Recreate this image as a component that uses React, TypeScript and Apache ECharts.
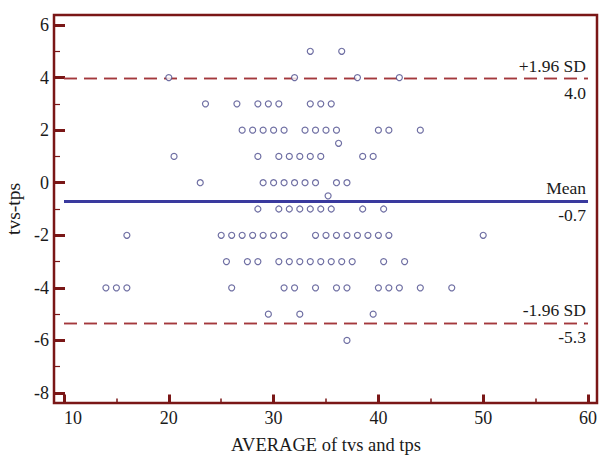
import React, { useEffect, useRef } from "react";
import * as echarts from "echarts";

// Bland-Altman data: difference levels (tvs - tps) and the averages observed at each level
const diffLevels = [5, 4, 3, 2, 1.5, 1, 0, -0.5, -1, -2, -3, -4, -5, -6];
const averagesByLevel = [
  [33.5, 36.5],
  [20, 32, 38, 42],
  [23.5, 26.5, 28.5, 29.5, 30.5, 33.5, 34.5, 35.5],
  [27, 28, 29, 30, 31, 33, 34, 35, 36, 40, 41, 44],
  [36.2],
  [20.5, 28.5, 30.5, 31.5, 32.5, 33.5, 34.5, 38.5, 39.5],
  [23, 29, 30, 31, 32, 33, 34, 36, 37],
  [35.2],
  [28.5, 30.5, 31.5, 32.5, 33.5, 34.5, 35.5, 38.5, 40.5],
  [16, 25, 26, 27, 28, 29, 30, 31, 34, 35, 36, 37, 38, 39, 40, 41, 50],
  [25.5, 27.5, 28.5, 30.5, 31.5, 32.5, 33.5, 34.5, 35.5, 36.5, 37.5, 40.5, 42.5],
  [14, 15, 16, 26, 31, 32, 34, 36, 37, 40, 41, 42, 44, 47],
  [29.5, 32.5, 39.5],
  [37],
];

const limitNames = ["+1.96 SD", "Mean", "-1.96 SD"];
const limitValues = [3.96, -0.71, -5.34];

const xTitle = "AVERAGE of tvs and tps";
const yTitle = "tvs-tps";

const FONT = "'Liberation Serif', 'Times New Roman', serif";
const FRAME = "#7a1717";
const DASH = "#a3383c";
const MEAN = "#3a3a9e";
const MARK = "#4b4b8c";
const TEXT = "#1a1a1a";

export default function App() {
  const ref = useRef<HTMLDivElement>(null);

  useEffect(() => {
    if (!ref.current) return;
    const chart = echarts.init(ref.current, undefined, { renderer: "svg" });

    const points: number[][] = [];
    diffLevels.forEach((d, i) => {
      averagesByLevel[i].forEach((a) => points.push([a, d]));
    });

    const markData: any[] = [];
    limitValues.forEach((v, i) => {
      const isMean = limitNames[i] === "Mean";
      const lineStyle = isMean
        ? { color: MEAN, width: 3, type: "solid" }
        : { color: DASH, width: 1.3, type: [13, 7] };
      markData.push({
        yAxis: v,
        lineStyle,
        label: {
          show: true,
          position: "insideEndTop",
          formatter: limitNames[i],
          distance: [2, 4],
        },
      });
      markData.push({
        yAxis: v,
        lineStyle,
        label: {
          show: true,
          position: "insideEndBottom",
          formatter: v.toFixed(1),
          distance: [2, 5],
        },
      });
    });

    chart.setOption({
      animation: false,
      backgroundColor: "#ffffff",
      textStyle: { fontFamily: FONT },
      grid: {
        left: 64,
        right: 12,
        top: 25,
        bottom: 62,
        containLabel: false,
        outerBoundsMode: "none",
      },
      xAxis: {
        type: "value",
        min: 10,
        max: 60,
        interval: 10,
        offset: 10.5,
        name: xTitle,
        nameLocation: "middle",
        nameGap: 32,
        nameTextStyle: { fontFamily: FONT, fontSize: 18.5, color: TEXT },
        axisLine: { show: false, onZero: false },
        axisTick: {
          show: true,
          inside: true,
          length: 9,
          lineStyle: { color: FRAME, width: 3 },
        },
        minorTick: {
          show: true,
          splitNumber: 2,
          length: 5,
          lineStyle: { color: FRAME, width: 1.5 },
        },
        splitLine: { show: false },
        axisLabel: {
          margin: 5,
          fontFamily: FONT,
          fontSize: 18,
          color: TEXT,
          alignMinLabel: "left",
        },
      },
      yAxis: {
        type: "value",
        min: -8,
        max: 6,
        interval: 2,
        offset: 10,
        name: yTitle,
        nameLocation: "middle",
        nameGap: 25,
        nameTextStyle: { fontFamily: FONT, fontSize: 19.5, color: TEXT },
        axisLine: { show: false, onZero: false },
        axisTick: {
          show: true,
          inside: true,
          length: 11,
          lineStyle: { color: FRAME, width: 3 },
        },
        minorTick: {
          show: true,
          splitNumber: 2,
          length: 6,
          lineStyle: { color: FRAME, width: 1.2 },
        },
        splitLine: { show: false },
        axisLabel: {
          margin: 5,
          fontFamily: FONT,
          fontSize: 18,
          color: TEXT,
        },
      },
      graphic: [
        {
          type: "rect",
          shape: { x: 54, y: 15, width: 543, height: 388 },
          style: { fill: "none", stroke: FRAME, lineWidth: 2.5 },
          z: 100,
          silent: true,
        },
      ],
      series: [
        {
          type: "scatter",
          data: points,
          symbol: "circle",
          symbolSize: 6,
          itemStyle: { color: "#ffffff", borderColor: MARK, borderWidth: 1.2 },
          z: 3,
          markLine: {
            silent: true,
            symbol: "none",
            animation: false,
            label: {
              fontFamily: FONT,
              fontSize: 17.5,
              color: TEXT,
            },
            data: markData,
            z: 2,
          },
        },
      ],
    });

    return () => chart.dispose();
  }, []);

  return (
    <div
      ref={ref}
      style={{ position: "fixed", left: 0, top: 0, width: 600, height: 455 }}
    />
  );
}
